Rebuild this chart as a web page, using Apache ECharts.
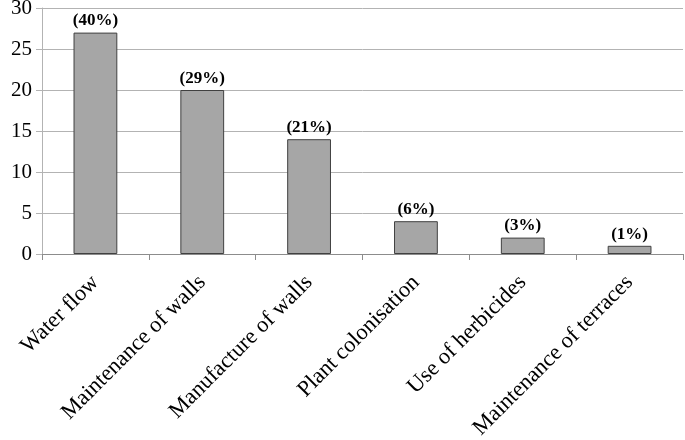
<!DOCTYPE html>
<html>
<head>
<meta charset="utf-8">
<script src="https://cdn.jsdelivr.net/npm/echarts@6/dist/echarts.min.js"></script>
<style>
  html, body { margin: 0; padding: 0; background: #fff; }
  #chart { width: 685px; height: 440px; }
</style>
</head>
<body>
<div id="chart"></div>
<script>
const categories = ['Water flow', 'Maintenance of walls', 'Manufacture of walls', 'Plant colonisation', 'Use of herbicides', 'Maintenance of terraces']
const counts = [27, 20, 14, 4, 2, 1]
const percentLabels = ['(40%)', '(29%)', '(21%)', '(6%)', '(3%)', '(1%)']
const yTicks = [0, 5, 10, 15, 20, 25, 30]

const serif = '"Liberation Serif", "DejaVu Serif", serif'
const chart = echarts.init(document.getElementById('chart'))

chart.setOption({
  animation: false,
  backgroundColor: '#fff',
  grid: { left: 42, right: 2, top: 8, bottom: 186, containLabel: false, outerBoundsMode: 'none' },
  xAxis: {
    type: 'category',
    data: categories,
    axisLine: { lineStyle: { color: '#8c8c8c', width: 1 } },
    axisTick: { show: true, length: 6, lineStyle: { color: '#8c8c8c' } },
    axisLabel: {
      rotate: 45,
      interval: 0,
      margin: 25,
      color: '#000',
      fontFamily: serif,
      fontSize: 22.5
    }
  },
  yAxis: {
    type: 'value',
    min: yTicks[0],
    max: yTicks[yTicks.length - 1],
    interval: 5,
    axisLine: { show: true, lineStyle: { color: '#b3b3b3' } },
    axisTick: { show: true, length: 6, lineStyle: { color: '#b3b3b3' } },
    axisLabel: { color: '#000', fontFamily: serif, fontSize: 21, margin: 10 },
    splitLine: { lineStyle: { color: '#b3b3b3', width: 1 } }
  },
  series: [{
    type: 'bar',
    data: counts,
    barWidth: '41%',
    itemStyle: { color: '#a6a6a6', borderColor: '#404040', borderWidth: 1 },
    label: {
      show: true,
      position: 'top',
      distance: 3,
      formatter: p => percentLabels[p.dataIndex],
      color: '#000',
      fontFamily: serif,
      fontWeight: 'bold',
      fontSize: 17
    }
  }]
})
</script>
</body>
</html>
